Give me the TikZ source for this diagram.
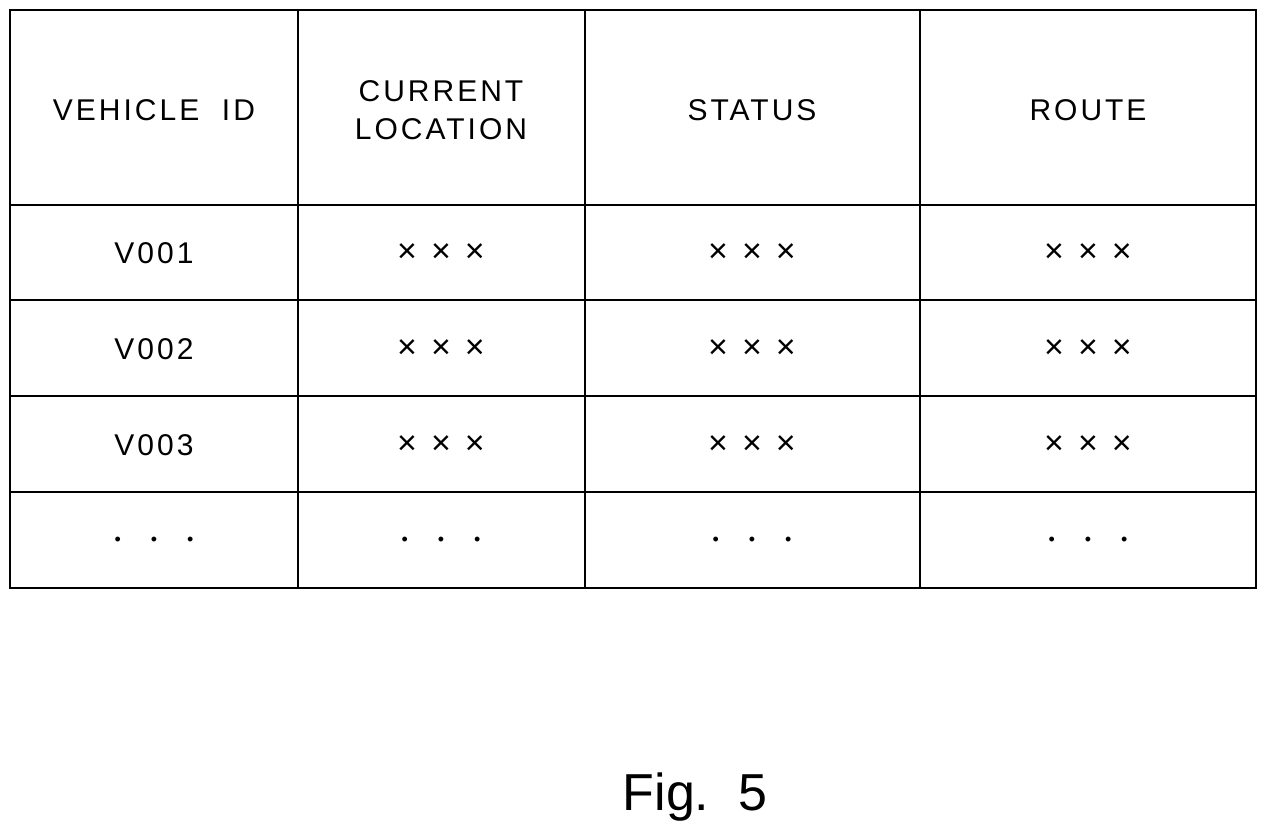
\documentclass[tikz,border=0pt]{standalone}
\usepackage{fontspec}
\setmainfont{Liberation Sans}
\begin{document}
\begin{tikzpicture}[x=1pt,y=-1pt,
  cell/.style={font=\fontsize{30}{38}\selectfont\addfontfeature{LetterSpace=10},align=center,inner sep=0pt},
  grid/.style={line width=1.6pt,black}]
\useasboundingbox (0,0) rectangle (1278,840);
\draw[grid] (10,10) rectangle (1256,588);
\foreach \x in {298,585,920} \draw[grid] (\x,10) -- (\x,588);
\foreach \y in {205,300,396,492} \draw[grid] (10,\y) -- (1256,\y);
\node[cell] (h1) at (154,110) {VEHICLE\ \ ID};
\node[cell] (h2) at (441,110) {CURRENT\\LOCATION};
\node[cell] (h3) at (752,110) {STATUS};
\node[cell] (h4) at (1088,110) {ROUTE};
\foreach \y/\v [count=\i] in {253/V001,349/V002,445/V003}{
  \node[cell] (r\i a) at (154,\y) {\v};
  \node[cell,font=\fontsize{34}{38}\selectfont] (r\i b) at (441,\y) {×\hspace{14pt}×\hspace{14pt}×};
  \node[cell,font=\fontsize{34}{38}\selectfont] (r\i c) at (752,\y) {×\hspace{14pt}×\hspace{14pt}×};
  \node[cell,font=\fontsize{34}{38}\selectfont] (r\i d) at (1088,\y) {×\hspace{14pt}×\hspace{14pt}×};
}
\foreach \x [count=\j] in {154,441,752,1088}
  \node[cell,font=\fontsize{18}{20}\selectfont] (d\j) at (\x,541) {•\hspace{30pt}•\hspace{30pt}•};
\node[font=\fontsize{52}{56}\selectfont] (fig) at (695,797) {Fig.\ \ 5};
\end{tikzpicture}
\end{document}
